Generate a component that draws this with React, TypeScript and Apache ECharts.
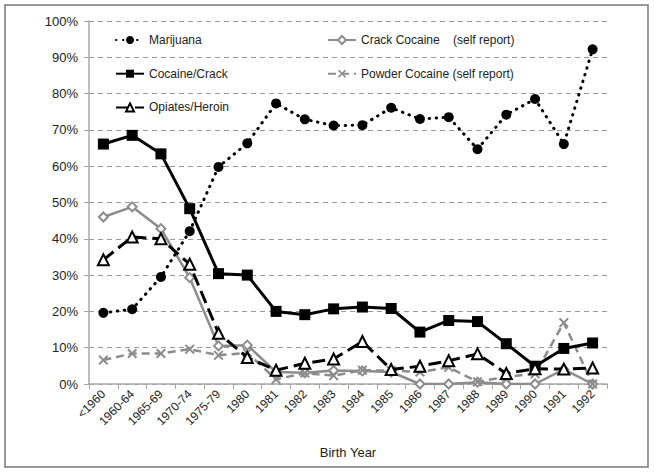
import React, { useEffect, useRef } from "react";
import * as echarts from "echarts";

const categories = ["<1960", "1960-64", "1965-69", "1970-74", "1975-79", "1980", "1981", "1982", "1983", "1984", "1985", "1986", "1987", "1988", "1989", "1990", "1991", "1992"];
const marijuana = [19.6, 20.6, 29.5, 42.1, 59.8, 66.3, 77.3, 72.9, 71.2, 71.3, 76.1, 73.0, 73.5, 64.7, 74.2, 78.5, 66.1, 92.2];
const cocaineCrack = [66.1, 68.5, 63.4, 48.3, 30.4, 30.0, 20.0, 19.1, 20.7, 21.2, 20.8, 14.3, 17.5, 17.2, 11.1, 4.9, 9.8, 11.3];
const opiates = [34.2, 40.5, 40.0, 33.0, 14.0, 7.3, 3.8, 5.7, 6.9, 11.7, 4.0, 4.9, 6.4, 8.3, 2.9, 4.2, 4.1, 4.4];
const crackSelf = [46.0, 48.8, 42.8, 29.3, 10.5, 10.7, 3.3, 3.1, 3.7, 3.6, 3.3, 0, 0, 0.5, 0, 0, 4.0, 0];
const powderSelf = [6.6, 8.4, 8.4, 9.6, 7.9, 8.6, 1.3, 3.0, 2.3, 3.8, 3.7, 3.3, 4.6, 0.6, 2.0, 2.8, 16.9, 0];

const N_MARIJUANA = "Marijuana";
const N_COCAINE = "Cocaine/Crack";
const N_OPIATES = "Opiates/Heroin";
const N_CRACK = "Crack Cocaine    (self report)";
const N_POWDER = "Powder Cocaine (self report)";

const X_SYMBOL = "path://M0,1.4 L1.4,0 L5,3.6 L8.6,0 L10,1.4 L6.4,5 L10,8.6 L8.6,10 L5,6.4 L1.4,10 L0,8.6 L3.6,5 Z";

export default function App() {
  const ref = useRef<HTMLDivElement>(null);
  useEffect(() => {
    if (!ref.current) return;
    const chart = echarts.init(ref.current, null, { renderer: "svg" });
    const font = "Liberation Sans, Arial, sans-serif";
    const legendText = { fontFamily: font, fontSize: 12, color: "#222" };
    chart.setOption({
      animation: false,
      backgroundColor: "#fff",
      graphic: [
        {
          type: "rect",
          shape: { x: 5, y: 5, width: 643, height: 462 },
          style: { fill: "none", stroke: "#7a7a7a", lineWidth: 1.5 },
          silent: true,
        },
      ],
      grid: { left: 89, right: 47, top: 21, bottom: 89 },
      legend: [
        {
          data: [N_MARIJUANA, N_COCAINE, N_OPIATES],
          orient: "vertical",
          left: 110,
          top: 29,
          itemWidth: 28,
          itemHeight: 10,
          itemGap: 21.7,
          textStyle: legendText,
          selectedMode: false,
        },
        {
          data: [N_CRACK, N_POWDER],
          orient: "vertical",
          left: 322,
          top: 29,
          itemWidth: 28,
          itemHeight: 10,
          itemGap: 21.7,
          textStyle: legendText,
          selectedMode: false,
        },
      ],
      xAxis: {
        type: "category",
        data: categories,
        boundaryGap: true,
        name: "Birth Year",
        nameLocation: "middle",
        nameGap: 62,
        nameTextStyle: { fontFamily: font, fontSize: 13, color: "#222" },
        axisLine: { lineStyle: { color: "#a8a8a8", width: 1.5 } },
        axisTick: { show: true, length: 5, lineStyle: { color: "#a8a8a8" } },
        axisLabel: { rotate: 45, fontFamily: font, fontSize: 12, color: "#222", margin: 8, interval: 0 },
        splitLine: { show: false },
      },
      yAxis: {
        type: "value",
        min: 0,
        max: 100,
        interval: 10,
        axisLine: { show: true, lineStyle: { color: "#a8a8a8", width: 1.5 } },
        axisTick: { show: true, length: 5, lineStyle: { color: "#a8a8a8" } },
        axisLabel: { formatter: "{value}%", fontFamily: font, fontSize: 13, color: "#222", margin: 11 },
        splitLine: { show: true, lineStyle: { color: "#999", type: [5, 4], width: 1 } },
      },
      series: [
        {
          name: N_CRACK,
          type: "line",
          data: crackSelf,
          symbol: "diamond",
          symbolSize: 9,
          itemStyle: { color: "#fff", borderColor: "#8c8c8c", borderWidth: 2 },
          lineStyle: { color: "#8c8c8c", width: 2.5, type: "solid" },
          z: 2,
        },
        {
          name: N_POWDER,
          type: "line",
          data: powderSelf,
          symbol: X_SYMBOL,
          symbolSize: 10,
          itemStyle: { color: "#8c8c8c", borderWidth: 0 },
          lineStyle: { color: "#8c8c8c", width: 2.5, type: [8, 5] },
          z: 3,
        },
        {
          name: N_MARIJUANA,
          type: "line",
          data: marijuana,
          symbol: "circle",
          symbolSize: 10,
          itemStyle: { color: "#000" },
          lineStyle: { color: "#000", width: 3, type: [0.5, 6.5], cap: "round" },
          z: 4,
        },
        {
          name: N_COCAINE,
          type: "line",
          data: cocaineCrack,
          symbol: "rect",
          symbolSize: 11,
          itemStyle: { color: "#000" },
          lineStyle: { color: "#000", width: 3, type: "solid" },
          z: 5,
        },
        {
          name: N_OPIATES,
          type: "line",
          data: opiates,
          symbol: "triangle",
          symbolSize: 11,
          itemStyle: { color: "#fff", borderColor: "#000", borderWidth: 2 },
          lineStyle: { color: "#000", width: 3, type: [13, 6] },
          z: 6,
        },
      ],
    });
    return () => chart.dispose();
  }, []);
  return (
    <div
      ref={ref}
      style={{ position: "fixed", left: 0, top: 0, width: 654, height: 473, background: "#fff" }}
    />
  );
}
